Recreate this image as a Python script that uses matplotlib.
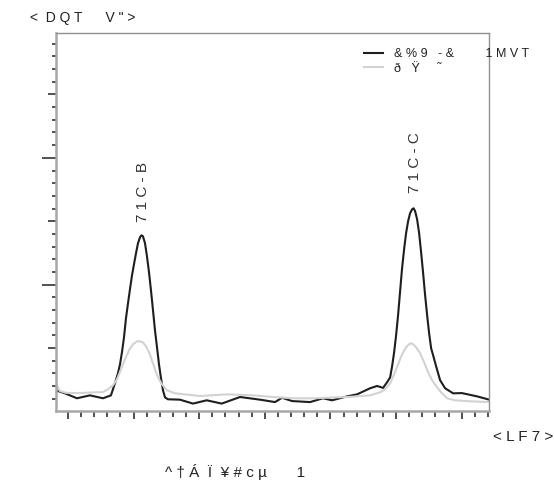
import matplotlib
matplotlib.use("Agg")
import matplotlib.pyplot as plt
from matplotlib.ticker import MultipleLocator

plt.rcParams["font.family"] = ["Liberation Sans", "DejaVu Sans"]

# black trace
x_dark = [8.13, 9.54, 11.37, 13.35, 15.34, 16.55, 17.16, 17.62, 17.93, 18.23, 18.54,
          18.84, 19.15, 19.45, 19.76, 20.06, 20.37, 20.67, 20.98, 21.20, 21.43, 21.74,
          22.04, 22.35, 22.65, 22.96, 23.26, 23.57, 23.87, 24.18, 24.48, 24.79, 25.24,
          27.07, 29.05, 31.14, 33.43, 36.22, 39.27, 41.55, 42.62, 44.15, 46.89, 48.87,
          50.24, 52.53, 54.05, 56.04, 57.10, 58.02, 58.63, 59.09, 59.39, 59.70, 60.00,
          60.30, 60.61, 60.91, 61.22, 61.52, 61.83, 62.13, 62.44, 62.67, 62.90, 63.20,
          63.51, 63.81, 64.12, 64.42, 64.73, 65.03, 65.34, 65.64, 66.10, 66.71, 67.47,
          68.69, 70.01, 72.35, 74.18]
y_dark = [0.166, 0.142, 0.103, 0.126, 0.103, 0.126, 0.221, 0.300, 0.371, 0.466, 0.584,
          0.734, 0.852, 0.963, 1.073, 1.160, 1.247, 1.326, 1.373, 1.389, 1.381, 1.326,
          1.223, 1.097, 0.955, 0.797, 0.639, 0.505, 0.371, 0.260, 0.166, 0.110, 0.095,
          0.092, 0.061, 0.087, 0.061, 0.113, 0.092, 0.073, 0.107, 0.081, 0.073, 0.103,
          0.087, 0.118, 0.134, 0.182, 0.200, 0.185, 0.230, 0.268, 0.355, 0.466, 0.600,
          0.758, 0.947, 1.129, 1.279, 1.405, 1.500, 1.563, 1.594, 1.602, 1.579, 1.515,
          1.405, 1.255, 1.089, 0.916, 0.758, 0.616, 0.497, 0.442, 0.355, 0.245, 0.182,
          0.142, 0.144, 0.118, 0.092]

# light trace
x_light = [8.13, 8.78, 9.70, 11.83, 14.12, 15.34, 16.10, 16.86, 17.47, 18.08, 18.69,
           19.30, 19.91, 20.52, 20.98, 21.43, 21.89, 22.35, 22.80, 23.26, 23.72, 24.33,
           25.09, 26.31, 30.12, 34.24, 38.20, 41.25, 44.30, 47.35, 52.53, 56.04, 57.56,
           58.32, 59.09, 59.70, 60.30, 60.91, 61.52, 61.98, 62.29, 62.59, 63.05, 63.66,
           64.27, 64.88, 65.49, 66.25, 67.01, 67.77, 68.99, 71.28, 74.18]
y_light = [0.221, 0.160, 0.146, 0.144, 0.150, 0.152, 0.174, 0.205, 0.253, 0.331, 0.410,
           0.481, 0.529, 0.552, 0.552, 0.545, 0.513, 0.466, 0.403, 0.331, 0.268, 0.213,
           0.166, 0.142, 0.121, 0.134, 0.126, 0.113, 0.103, 0.103, 0.113, 0.126, 0.150,
           0.174, 0.221, 0.292, 0.371, 0.450, 0.505, 0.529, 0.537, 0.529, 0.505, 0.458,
           0.387, 0.308, 0.245, 0.189, 0.142, 0.103, 0.087, 0.079, 0.073]

# texts, written with the wide letter spacing of the original
series_labels = ["& % 9   - &         1 M V T", "ð   Ÿ     ˜"]
peak_x = [21.36, 62.9]
peak_y = [1.49, 1.72]
peak_labels = ["7 1 C - B", "7 1 C - C"]
title_text = "<  D Q T      V \" >"
xlabel_text = "^ † Á  Ï  ¥ # c µ       1"
corner_text = "< L F 7 >"

fig = plt.figure(figsize=(5.54, 4.83), dpi=100)
ax = fig.add_axes([0.1005, 0.1497, 0.7827, 0.782])

ax.plot(x_dark, y_dark, color="#1e1e1e", lw=1.5, label=series_labels[0])
ax.plot(x_light, y_light, color="#d2d2d2", lw=1.5, label=series_labels[1])

for px, py, lab in zip(peak_x, peak_y, peak_labels):
    ax.text(px, py, lab, rotation=90, ha="center", va="bottom",
            fontsize=11, color="#333333")

ax.set_xlim(8.13, 74.2)
ax.set_ylim(0.005, 2.985)

ax.xaxis.set_major_locator(MultipleLocator(10))
ax.xaxis.set_minor_locator(MultipleLocator(2))
ax.yaxis.set_major_locator(MultipleLocator(0.5))
ax.yaxis.set_minor_locator(MultipleLocator(0.1))
ax.tick_params(axis="both", which="both", direction="out", color="#222222",
               labelleft=False, labelbottom=False, top=False, right=False)
ax.tick_params(axis="x", which="major", length=6, width=1.1)
ax.tick_params(axis="x", which="minor", length=4, width=1.1)
ax.tick_params(axis="y", which="major", length=6, width=1.1)
ax.tick_params(axis="y", which="minor", length=3, width=1.1)

# whole units get the long tick
for loc, tick in zip(ax.get_yticks(), ax.yaxis.get_major_ticks()):
    if abs(loc - round(loc)) < 1e-6:
        tick.tick1line.set_markersize(10)

for side in ["left", "bottom"]:
    ax.spines[side].set_color("#a8a8a8")
    ax.spines[side].set_linewidth(1.8)
for side in ["top", "right"]:
    ax.spines[side].set_color("#909090")
    ax.spines[side].set_linewidth(1.0)

ax.legend(loc="upper left", bbox_to_anchor=(0.711, 0.96), frameon=False,
          fontsize=9, handlelength=1.5, handletextpad=0.9, labelspacing=0.2,
          borderpad=0, borderaxespad=0, labelcolor="#222222")

fig.text(30 / 554, 1 - 18 / 483, title_text, fontsize=10, color="#222222",
         ha="left", va="center")
fig.text(493 / 554, 1 - 437 / 483, corner_text, fontsize=11, color="#222222",
         ha="left", va="center")
fig.text(165 / 554, 1 - 472 / 483, xlabel_text, fontsize=11, color="#222222",
         ha="left", va="center")

fig.savefig("out.png", dpi=100)
